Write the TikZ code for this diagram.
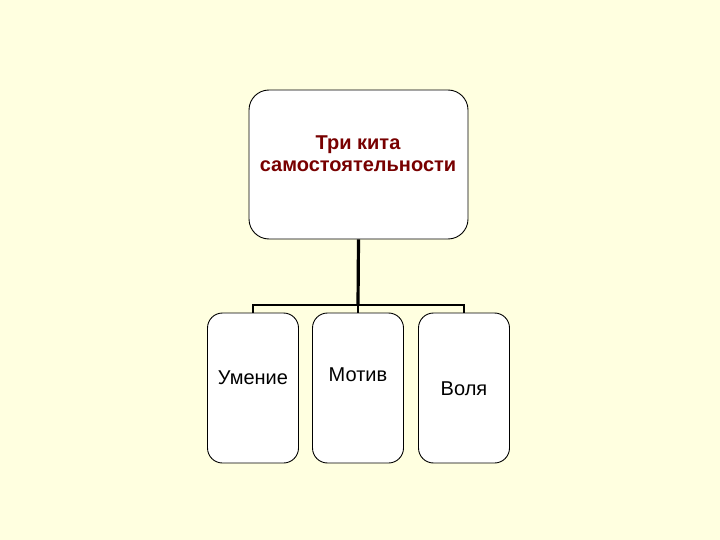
\documentclass[tikz,border=0pt]{standalone}
\usepackage{fontspec}
\setmainfont{Liberation Sans}
\definecolor{bg}{RGB}{255,255,224}
\definecolor{titlered}{RGB}{120,0,0}
\begin{document}
\begin{tikzpicture}[x=1pt,y=-1pt,
  topbox/.style={draw=black,fill=white,line width=0.9pt,rounded corners=20pt,minimum width=219pt,minimum height=149pt,inner sep=0pt},
  leafbox/.style={draw=black,fill=white,line width=0.9pt,rounded corners=15pt,minimum width=91pt,minimum height=150pt,inner sep=0pt},
  conn/.style={line width=2.4pt,black},
  lbl/.style={font=\fontsize{20}{22}\selectfont}]
\fill[bg] (0,0) rectangle (720,540);
\useasboundingbox (0,0) rectangle (720,540);
\node[topbox] (top) at (358.5,164.5) {};
\node[leafbox] (a) at (253,388) {};
\node[leafbox] (b) at (358,388) {};
\node[leafbox] (c) at (464,388) {};
\coordinate (hub) at (358,305);
\draw[line width=3.2pt] (top.south) -- (hub);
\draw[conn] (a.north) -- (a.north |- hub) -- (c.north |- hub) -- (c.north);
\draw[conn] (hub) -- (b.north);
\node[text=titlered,align=center,font=\fontsize{20}{22}\selectfont\bfseries] at (358,154) {Три кита\\самостоятельности};
\node[lbl] at (253,378) {Умение};
\node[lbl] at (358,375) {Мотив};
\node[lbl] at (464,389) {Воля};
\end{tikzpicture}
\end{document}
